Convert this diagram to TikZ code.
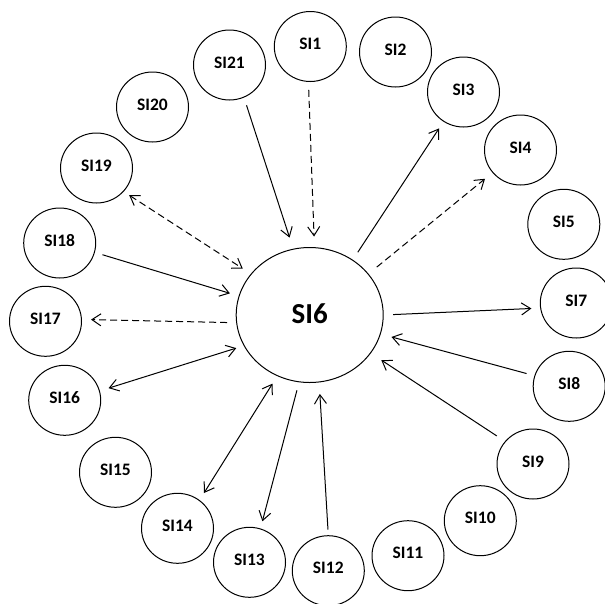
\documentclass[tikz,border=0pt]{standalone}
\usepackage{fontspec}
\setmainfont{Carlito}
\usetikzlibrary{shapes.geometric,arrows.meta}
\begin{document}
\begin{tikzpicture}[x=1pt,y=-1pt,
  si/.style={draw, ellipse, minimum width=72pt, minimum height=70pt, inner sep=0pt,
    line width=1pt, font=\bfseries\fontsize{17.5}{17.5}\selectfont, text depth=5pt},
  hub/.style={draw, ellipse, minimum width=147pt, minimum height=135pt, inner sep=0pt,
    line width=1pt, font=\bfseries\fontsize{29}{29}\selectfont, text depth=3pt},
  ln/.style={line width=1pt},
  dsh/.style={ln, dash pattern=on 7pt off 4pt},
  >={Straight Barb[length=9pt,width=12pt]}]
\useasboundingbox (0,0) rectangle (605,603);
\node[hub] (SI6) at (309.7,315) {SI6};
\node[si] (SI1)  at (310.3,46.5) {SI1};
\node[si] (SI2)  at (395.5,52)   {SI2};
\node[si] (SI3)  at (463.5,92)   {SI3};
\node[si] (SI4)  at (520.5,150)  {SI4};
\node[si] (SI5)  at (563.8,224.3){SI5};
\node[si] (SI7)  at (576.3,303)  {SI7};
\node[si] (SI8)  at (569.2,386.3){SI8};
\node[si] (SI9)  at (533,464)    {SI9};
\node[si] (SI10) at (480.3,520.7){SI10};
\node[si] (SI11) at (408,555.7)  {SI11};
\node[si] (SI12) at (328.3,570.7){SI12};
\node[si] (SI13) at (249.5,562.3){SI13};
\node[si] (SI14) at (177.5,528.3){SI14};
\node[si] (SI15) at (115.5,472.3){SI15};
\node[si] (SI16) at (64.7,400.3) {SI16};
\node[si] (SI17) at (45.5,321.3) {SI17};
\node[si] (SI18) at (59.7,243)   {SI18};
\node[si] (SI19) at (96.5,168)   {SI19};
\node[si] (SI20) at (152.5,107)  {SI20};
\node[si] (SI21) at (229.5,65)   {SI21};
% connectors
\draw[ln,->,shorten <=8.1pt,shorten >=11.7pt] (SI21.-66.4) -- (SI6.104.35);
\draw[dsh,->,shorten <=8pt,shorten >=10.6pt] (SI1.-93) -- (SI6.86.8);
\draw[ln,->,shorten <=9pt,shorten >=8pt] (SI6.52.1) -- (SI3.-124.2);
\draw[dsh,->,shorten <=10.6pt,shorten >=9.6pt] (SI6.35.9) -- (SI4.-141.7);
\draw[ln,->,shorten <=9.5pt,shorten >=8.8pt] (SI6.-0.5) -- (SI7.188);
\draw[ln,->,shorten <=8.1pt,shorten >=11.1pt] (SI8.163.9) -- (SI6.-15.65);
\draw[ln,->,shorten <=9.8pt,shorten >=12.4pt] (SI9.141.9) -- (SI6.-32.4);
\draw[ln,->,shorten <=5.7pt,shorten >=11.5pt] (SI12.90) -- (SI6.-82);
\draw[ln,->,shorten <=8.3pt,shorten >=7.4pt] (SI6.-99.1) -- (SI13.72.5);
\draw[ln,<->,shorten <=8.9pt,shorten >=8.3pt] (SI6.-118.4) -- (SI14.52.9);
\draw[ln,<->,shorten <=7.8pt,shorten >=9.1pt] (SI6.205.4) -- (SI16.15.4);
\draw[dsh,->,shorten <=9.1pt,shorten >=9.1pt] (SI6.186.3) -- (SI17.3.8);
\draw[ln,->,shorten <=7.9pt,shorten >=9.1pt] (SI18.-15.8) -- (SI6.165.9);
\draw[dsh,<->,shorten <=6.5pt,shorten >=9.6pt] (SI19.-41.6) -- (SI6.145.4);
\end{tikzpicture}
\end{document}
